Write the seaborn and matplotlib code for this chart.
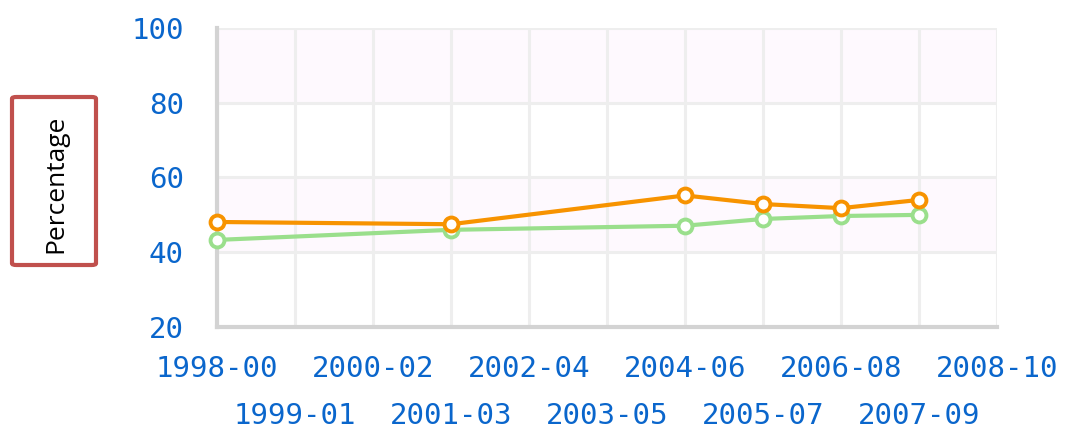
import numpy as np
import pandas as pd
import matplotlib
matplotlib.use("Agg")
import matplotlib.pyplot as plt
from matplotlib.patches import FancyBboxPatch
import seaborn as sns

# etiquetas del eje x (periodos)
periodos = ['1998-00', '1999-01', '2000-02', '2001-03', '2002-04', '2003-05',
            '2004-06', '2005-07', '2006-08', '2007-09', '2008-10']
# periodos con datos
periodos_datos = ['1998-00', '2001-03', '2004-06', '2005-07', '2006-08', '2007-09']
serie_naranja = [48.1, 47.5, 55.2, 52.9, 51.8, 54.0]
serie_verde = [43.3, 46.0, 47.1, 48.9, 49.7, 50.0]
y_ticks = [20, 40, 60, 80, 100]

azul = '#0A66CC'
naranja = '#F79300'
verde = '#9ADF8C'

sns.set_style("white")

df = pd.DataFrame({
    'periodo': periodos_datos * 2,
    'x': [periodos.index(p) for p in periodos_datos] * 2,
    'valor': serie_naranja + serie_verde,
    'serie': ['naranja'] * len(serie_naranja) + ['verde'] * len(serie_verde),
})

fig = plt.figure(figsize=(10.69, 4.34), dpi=100)
ax = fig.add_axes([217 / 1069, 1 - 327 / 434, (997 - 217) / 1069, (327 - 28) / 434])

# bandas de fondo
ax.axhspan(40, 60, color='#FEF9FE', zorder=0)
ax.axhspan(80, 100, color='#FEF9FE', zorder=0)

for nombre, color, z in [('verde', verde, 3), ('naranja', naranja, 4)]:
    sub = df[df['serie'] == nombre]
    sns.lineplot(data=sub, x='x', y='valor', ax=ax, color=color, linewidth=3,
                 marker='o', markersize=10, markerfacecolor='white',
                 markeredgecolor=color, markeredgewidth=2.8, zorder=z,
                 clip_on=False)

ax.set_xlim(0, 10)
ax.set_ylim(20, 100)
ax.set_xlabel('')
ax.set_ylabel('')

# etiquetas escalonadas: pares arriba, impares abajo
ax.set_xticks(range(0, 11, 2))
ax.set_xticklabels(periodos[0::2])
ax.set_xticks(range(1, 11, 2), minor=True)
ax.set_xticklabels(periodos[1::2], minor=True)
ax.set_yticks(y_ticks)

for lab in ax.get_xticklabels(which='both') + ax.get_yticklabels():
    lab.set_fontfamily('DejaVu Sans Mono')
    lab.set_fontsize(21)
    lab.set_color(azul)

ax.tick_params(axis='x', which='major', length=10, width=2.5, color='#D0D0D0', pad=10)
ax.tick_params(axis='x', which='minor', length=10, width=2.5, color='#D0D0D0', pad=44)
ax.tick_params(axis='y', length=10, width=2.5, color='#D0D0D0', pad=14)

ax.grid(True, which='both', color='#EEEEEE', linewidth=2.2)
ax.set_axisbelow(True)
for s in ['top', 'right']:
    ax.spines[s].set_visible(False)
for s in ['left', 'bottom']:
    ax.spines[s].set_color('#D3D3D3')
    ax.spines[s].set_linewidth(3)

# caja de la etiqueta del eje y
caja = FancyBboxPatch((12 / 1069, 1 - 265 / 434), 84 / 1069, 168 / 434,
                      boxstyle='round,pad=0,rounding_size=0.004',
                      transform=fig.transFigure, facecolor='white',
                      edgecolor='#C0504D', linewidth=3)
fig.patches.append(caja)
fig.text(56 / 1069, 1 - 184 / 434, 'Percentage', rotation=90, ha='center',
         va='center', fontsize=19, family='Open Sans', color='black')

fig.savefig('out.png', dpi=100)
